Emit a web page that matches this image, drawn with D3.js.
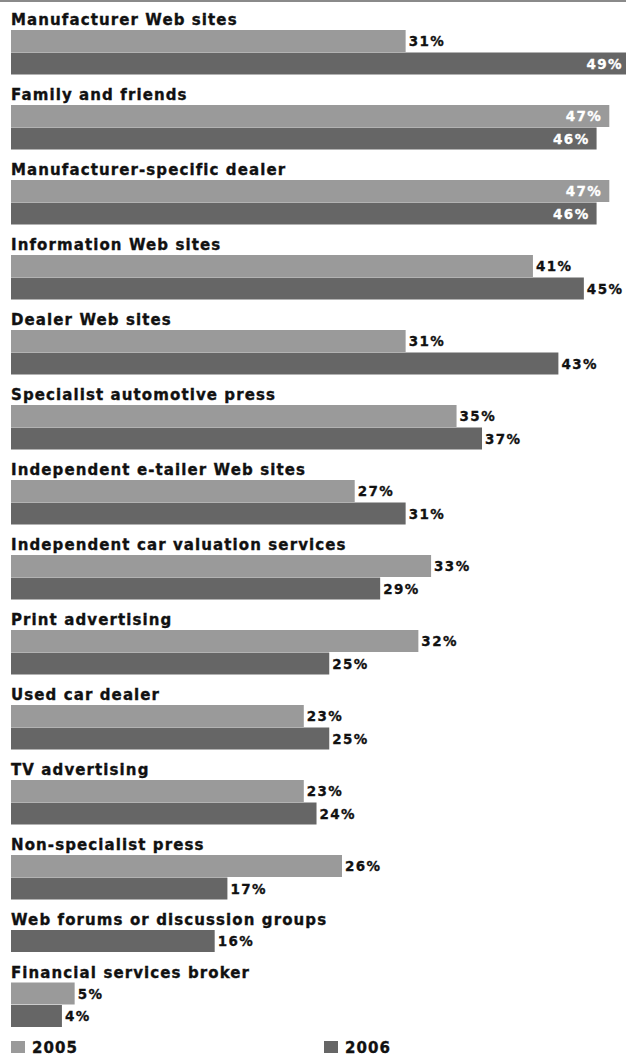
<!DOCTYPE html>
<html><head><meta charset="utf-8">
<script src="https://cdn.jsdelivr.net/npm/d3@7"></script>
<style>html,body{margin:0;padding:0;background:#fff;overflow:hidden}</style>
</head><body>
<svg id="c" width="626" height="1057"></svg>
<script>
const categories = ["Manufacturer Web sites","Family and friends","Manufacturer-specific dealer","Information Web sites","Dealer Web sites","Specialist automotive press","Independent e-tailer Web sites","Independent car valuation services","Print advertising","Used car dealer","TV advertising","Non-specialist press","Web forums or discussion groups","Financial services broker"];
const values2005 = [31,47,47,41,31,35,27,33,32,23,23,26,null,5];
const values2006 = [49,46,46,45,43,37,31,29,25,25,24,17,16,4];
const seriesNames = ["2005","2006"];
const colors = ["#9a9a9a","#666666"];

const W = 626, H = 1057;
const svg = d3.select("#c");
const x = d3.scaleLinear().domain([0,50]).range([11, 11 + 12.73*50]);
const fontLab = "'DejaVu Sans', sans-serif";

svg.append("line").attr("x1",0).attr("x2",W).attr("y1",1).attr("y2",1)
  .attr("stroke","#8a8a8a").attr("stroke-width",2);

let y0 = 0;
const barH = 22, barStep = 22.5;
categories.forEach((cat,i)=>{
  const g = svg.append("g");
  g.append("text").attr("x",11).attr("y",y0+25).text(cat)
    .attr("font-family",fontLab).attr("font-weight","bold").attr("font-size",15)
    .attr("letter-spacing",1.1).attr("fill","#111").attr("stroke","#111").attr("stroke-width",0.35);
  const vals = [values2005[i], values2006[i]].map((v,k)=>({v,k})).filter(d=>d.v!=null);
  vals.forEach((d,j)=>{
    const by = y0 + 30 + j*barStep;
    g.append("rect").attr("x",x(0)).attr("y",by).attr("width",x(d.v)-x(0)).attr("height",barH)
      .attr("fill",colors[d.k]);
    const t = g.append("text").attr("y",by+barH/2+5).text(d.v+"%")
      .attr("font-family",fontLab).attr("font-weight","bold").attr("font-size",13.5)
      .attr("letter-spacing",1.4).attr("stroke-width",0.3);
    t.attr("x",x(d.v)+3).attr("fill","#111").attr("stroke","#111");
    const w = t.node().getComputedTextLength();
    if (x(d.v)+3+w > W) {
      t.attr("x",Math.min(x(d.v)-7, W-3)).attr("text-anchor","end").attr("fill","#fff").attr("stroke","#fff");
    }
  });
  y0 += 30 + barStep*vals.length;
});

const legX = [11, 324];
seriesNames.forEach((s,k)=>{
  svg.append("rect").attr("x",legX[k]).attr("y",1041).attr("width",14).attr("height",12).attr("fill",colors[k]);
  svg.append("text").attr("x",legX[k]+21).attr("y",1053).text(s)
    .attr("font-family",fontLab).attr("font-weight","bold").attr("font-size",15)
    .attr("letter-spacing",1.1).attr("fill","#111").attr("stroke","#111").attr("stroke-width",0.35);
});
</script>
</body></html>
